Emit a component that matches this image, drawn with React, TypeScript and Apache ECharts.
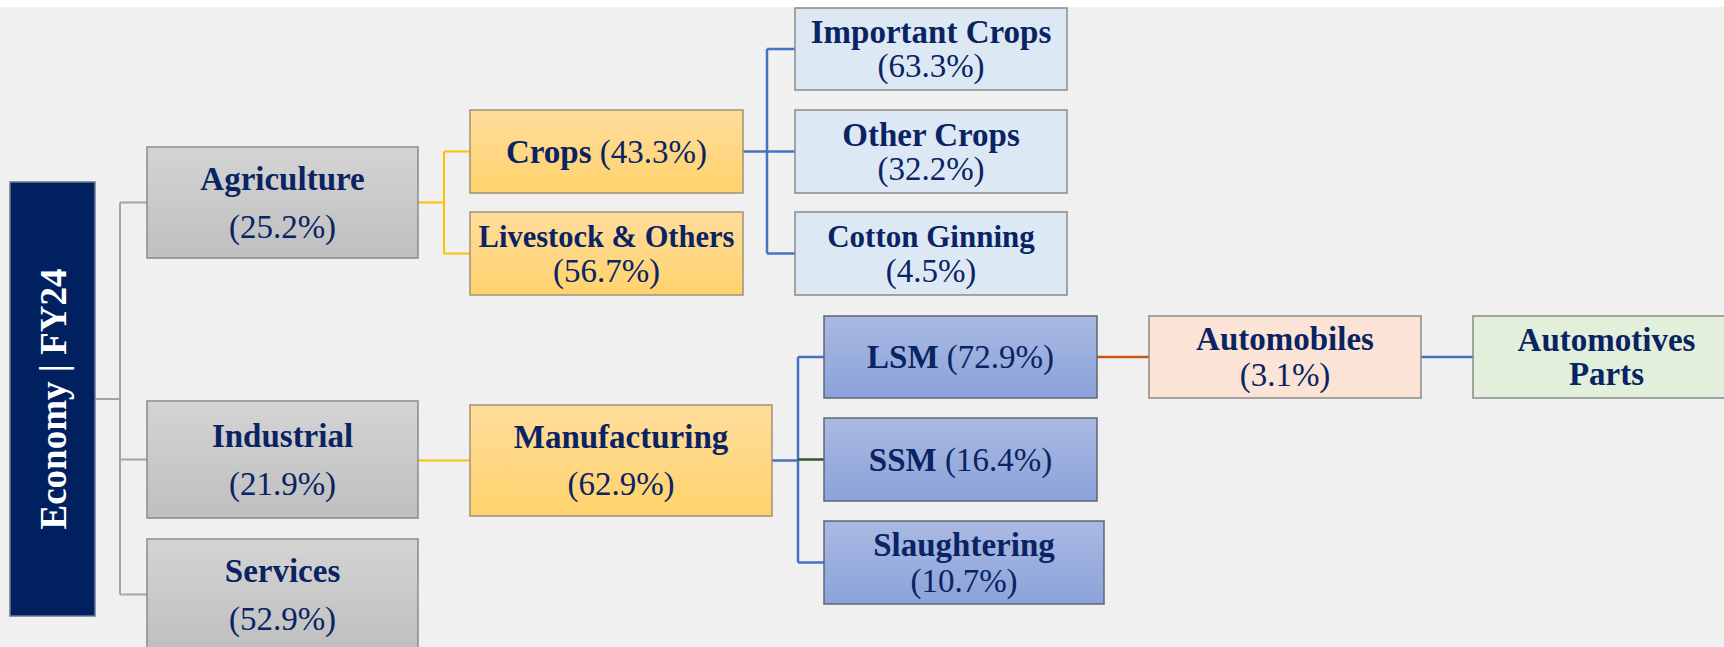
import React, { useEffect, useRef } from "react";
import * as echarts from "echarts";

// ---------------- data ----------------
const nodeNames = [
  "Economy | FY24",
  "Agriculture",
  "Industrial",
  "Services",
  "Crops",
  "Livestock & Others",
  "Important Crops",
  "Other Crops",
  "Cotton Ginning",
  "Manufacturing",
  "LSM",
  "SSM",
  "Slaughtering",
  "Automobiles",
  "Automotives Parts",
];
const nodeShares: (number | null)[] = [
  null, 25.2, 21.9, 52.9, 43.3, 56.7, 63.3, 32.2, 4.5, 62.9, 72.9, 16.4, 10.7, 3.1, null,
];
const nodeParents = [-1, 0, 0, 0, 1, 1, 4, 4, 4, 2, 9, 9, 9, 10, 13];

// ---------------- layout & style ----------------
const W = 1724;
const H = 647;
const boxLayout: number[][] = [
  [10, 182, 95, 616],
  [147, 147, 418, 258],
  [147, 401, 418, 518],
  [147, 539, 418, 650],
  [470, 110, 743, 193],
  [470, 212, 743, 295],
  [795, 8, 1067, 90],
  [795, 110, 1067, 193],
  [795, 212, 1067, 295],
  [470, 405, 772, 516],
  [824, 316, 1097, 398],
  [824, 418, 1097, 501],
  [824, 521, 1104, 604],
  [1149, 316, 1421, 398],
  [1473, 316, 1740, 398],
];
const boxTheme = [
  "root", "gray", "gray", "gray", "yellow", "yellow", "pale", "pale", "pale",
  "yellow", "blue", "blue", "blue", "peach", "green",
];
const labelMode = [
  "rot", "stack", "stack", "stack", "inline", "stack", "stack", "stack", "stack",
  "stack", "inline", "inline", "stack", "stack", "wrap",
];
const lineH = [0, 48, 48, 48, 36, 34, 34, 34, 34, 47, 36, 36, 36, 36, 34];
const nameSize = [37, 33, 33, 33, 33, 30.5, 33, 33, 31, 33, 33, 33, 33, 33, 33];
const busX: Record<number, number> = { 0: 120, 1: 444, 2: 444, 4: 767, 9: 798, 10: 1123, 13: 1447 };
const parentEdgeColor: Record<number, string> = {
  0: "#A5A5A5", 1: "#FFC000", 2: "#FFC000", 4: "#4472C4", 9: "#4472C4", 10: "#C55A11", 13: "#4472C4",
};
const parentEdgeWidth: Record<number, number> = { 0: 2, 1: 2, 2: 2, 4: 2.5, 9: 2.5, 10: 2.5, 13: 2.5 };
const branchColorOverride: Record<number, string> = { 11: "#38572A" };

const NAVY = "#0A2463";
const FONT = "'Liberation Serif', 'DejaVu Serif', serif";

function themeFill(t: string) {
  const g = (a: string, b: string) =>
    new echarts.graphic.LinearGradient(0, 0, 0, 1, [
      { offset: 0, color: a },
      { offset: 1, color: b },
    ]);
  switch (t) {
    case "root":
      return "#002060";
    case "gray":
      return g("#D4D4D4", "#BFBFBF");
    case "yellow":
      return g("#FFDC9C", "#FFD36C");
    case "pale":
      return "#DDE8F5";
    case "blue":
      return g("#AAB9E2", "#8BA3DA");
    case "peach":
      return "#FBE4D6";
    case "green":
      return "#E2EFDA";
  }
  return "#ccc";
}
function themeStroke(t: string) {
  switch (t) {
    case "blue":
      return "#5F6573";
    case "yellow":
      return "#9E9275";
    case "root":
      return "#6E7890";
  }
  return "#8A8A8A";
}

const cy = (i: number) => (boxLayout[i][1] + boxLayout[i][3]) / 2;

function buildEdges() {
  const out: any[] = [];
  const parents = Array.from(new Set(nodeParents.filter((p) => p >= 0)));
  parents.forEach((p) => {
    const kids = nodeParents.map((q, i) => (q === p ? i : -1)).filter((i) => i >= 0);
    const color = parentEdgeColor[p];
    const width = parentEdgeWidth[p];
    const px = boxLayout[p][2];
    const py = kids.length === 1 ? cy(kids[0]) : cy(p);
    const bx = busX[p];
    const ls = (c: string) => ({ color: c, width, opacity: 1, type: "solid" });
    out.push({ coords: [[px, py], [bx, py]], lineStyle: ls(color) });
    if (kids.length > 1) {
      const ys = kids.map(cy).concat([py]);
      out.push({
        coords: [[bx, Math.min(...ys)], [bx, Math.max(...ys)]],
        lineStyle: ls(color),
      });
    }
    kids.forEach((k) => {
      const ky = kids.length === 1 ? py : cy(k);
      out.push({
        coords: [[bx, ky], [boxLayout[k][0], ky]],
        lineStyle: ls(branchColorOverride[k] || color),
      });
    });
  });
  return out;
}

function labelText(i: number) {
  const name = nodeNames[i];
  const s = nodeShares[i];
  const pct = s == null ? "" : `(${s.toFixed(1)}%)`;
  switch (labelMode[i]) {
    case "inline":
      return `{b|${name}}{p| ${pct}}`;
    case "wrap":
      return name
        .split(" ")
        .map((w) => `{b|${w}}`)
        .join("\n");
    default:
      return `{b|${name}}\n{p|${pct}}`;
  }
}

export default function App() {
  const ref = useRef<HTMLDivElement>(null);
  useEffect(() => {
    if (!ref.current) return;
    const chart = echarts.init(ref.current, undefined, { renderer: "svg" });
    const boxData = nodeNames.map((_, i) => [...boxLayout[i], i]);
    chart.setOption({
      animation: false,
      backgroundColor: "#F0F0F0",
      grid: { left: 0, right: 0, top: 0, bottom: 0 },
      xAxis: { type: "value", min: 0, max: W, show: false },
      yAxis: { type: "value", min: 0, max: H, inverse: true, show: false },
      graphic: [
        {
          type: "rect",
          shape: { x: 0, y: 0, width: W, height: 7 },
          style: { fill: "#FFFFFF" },
          silent: true,
        },
      ],
      series: [
        {
          type: "lines",
          coordinateSystem: "cartesian2d",
          polyline: true,
          silent: true,
          z: 1,
          lineStyle: { opacity: 1 },
          data: buildEdges(),
        },
        {
          type: "custom",
          coordinateSystem: "cartesian2d",
          silent: true,
          clip: false,
          z: 3,
          encode: { x: [0, 2], y: [1, 3] },
          data: boxData,
          renderItem: (params: any, api: any) => {
            const i = api.value(4);
            const a = api.coord([api.value(0), api.value(1)]);
            const b = api.coord([api.value(2), api.value(3)]);
            const x = Math.min(a[0], b[0]);
            const y = Math.min(a[1], b[1]);
            const w = Math.abs(b[0] - a[0]);
            const h = Math.abs(b[1] - a[1]);
            const t = boxTheme[i];
            const rect = {
              type: "rect",
              shape: { x, y, width: w, height: h },
              style: { fill: themeFill(t), stroke: themeStroke(t), lineWidth: 1.5 },
            };
            let text: any;
            if (labelMode[i] === "rot") {
              text = {
                type: "text",
                x: x + w / 2 + 1,
                y: y + h / 2,
                rotation: Math.PI / 2,
                style: {
                  text: nodeNames[i],
                  fill: "#FFFFFF",
                  fontFamily: FONT,
                  fontWeight: "bold",
                  fontSize: nameSize[i],
                  align: "center",
                  verticalAlign: "middle",
                },
              };
            } else {
              const lh = lineH[i];
              text = {
                type: "text",
                x: x + w / 2,
                y: y + h / 2,
                style: {
                  text: labelText(i),
                  align: "center",
                  verticalAlign: "middle",
                  fill: NAVY,
                  fontFamily: FONT,
                  fontSize: 33,
                  rich: {
                    b: { fill: NAVY, fontFamily: FONT, fontWeight: "bold", fontSize: nameSize[i], lineHeight: lh },
                    p: { fill: NAVY, fontFamily: FONT, fontWeight: "normal", fontSize: 33, lineHeight: lh },
                  },
                },
              };
            }
            return { type: "group", children: [rect, text] };
          },
        },
      ],
    });
    return () => chart.dispose();
  }, []);
  return (
    <div
      ref={ref}
      style={{ position: "absolute", left: 0, top: 0, width: W, height: H }}
    />
  );
}
